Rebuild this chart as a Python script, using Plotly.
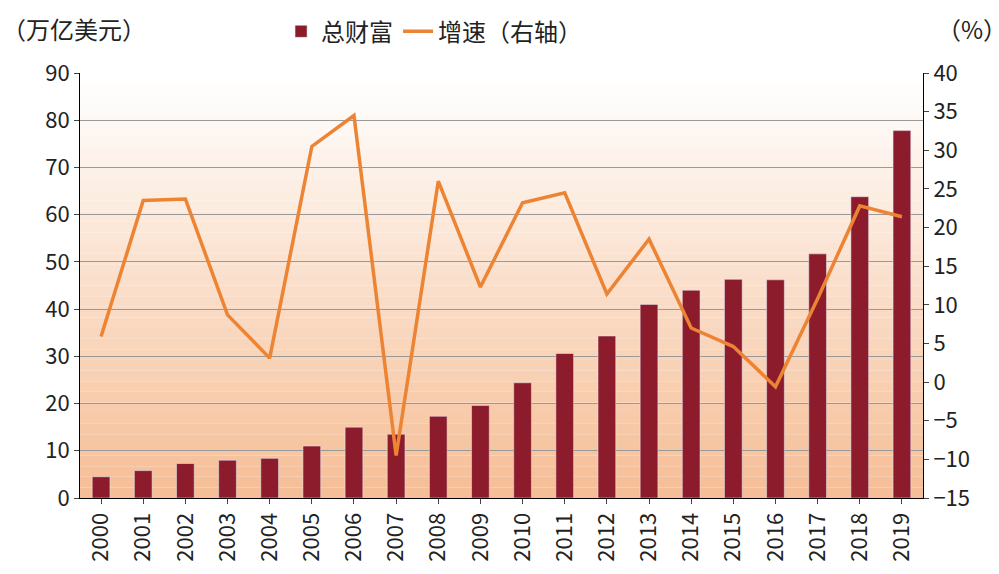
import plotly.graph_objects as go

years = [str(y) for y in range(2000, 2020)]
wealth = [4.5, 5.8, 7.3, 8.0, 8.4, 11.0, 15.0, 13.5, 17.3, 19.6, 24.4, 30.6, 34.3, 41.0, 44.0, 46.3, 46.2, 51.7, 63.8, 77.8]
growth = [5.9, 23.5, 23.7, 8.7, 3.1, 30.5, 34.5, -9.5, 26.0, 12.3, 23.2, 24.5, 11.4, 18.5, 7.0, 4.6, -0.6, 10.8, 22.8, 21.4]

font = "Noto Sans CJK SC"
fig = go.Figure()
fig.add_trace(go.Bar(x=years, y=wealth, name="总财富", marker_color="#8c1c2c", width=0.42, yaxis="y"))
fig.add_trace(go.Scatter(x=years, y=growth, name="增速（右轴）", mode="lines",
                         line=dict(color="#ec8433", width=3.5), yaxis="y2"))

shapes = []
n = 40
for i in range(n):
    t = i / (n - 1)
    r = 255 + (245 - 255) * t
    g = 255 + (190 - 255) * t
    b = 255 + (150 - 255) * t
    shapes.append(dict(type="rect", xref="x domain", yref="y domain", x0=0, x1=1,
                       y0=1 - (i + 1) / n, y1=1 - i / n, fillcolor=f"rgb({r:.0f},{g:.0f},{b:.0f})",
                       line_width=0, layer="below"))

fig.update_layout(
    width=999, height=574, margin=dict(l=72, r=84, t=65, b=84, autoexpand=False),
    paper_bgcolor="white", plot_bgcolor="white", shapes=shapes,
    font=dict(family=font, size=22, color="#222"),
    legend=dict(orientation="h", x=0.42, xanchor="center", y=1.15, yanchor="top",
                font=dict(size=24), bgcolor="rgba(0,0,0,0)"),
    xaxis=dict(showline=True, linecolor="black", ticks="outside", tickangle=-90,
               tickfont=dict(size=22), mirror=False),
    yaxis=dict(range=[0, 90], dtick=10, showgrid=True, gridcolor="#999", showline=True,
               linecolor="black", ticks="outside", tickfont=dict(size=22), zeroline=False),
    yaxis2=dict(range=[-15, 40], dtick=5, overlaying="y", side="right", showgrid=False,
                showline=True, linecolor="black", ticks="outside", tickfont=dict(size=22),
                zeroline=False),
    annotations=[
        dict(text="（万亿美元）", xref="paper", yref="paper", x=-0.095, y=1.15, xanchor="left",
             yanchor="top", showarrow=False, font=dict(size=24)),
        dict(text="（%）", xref="paper", yref="paper", x=1.058, y=1.15, xanchor="center",
             yanchor="top", showarrow=False, font=dict(size=24)),
    ],
    bargap=0.5,
)
fig.write_html("out.html")
